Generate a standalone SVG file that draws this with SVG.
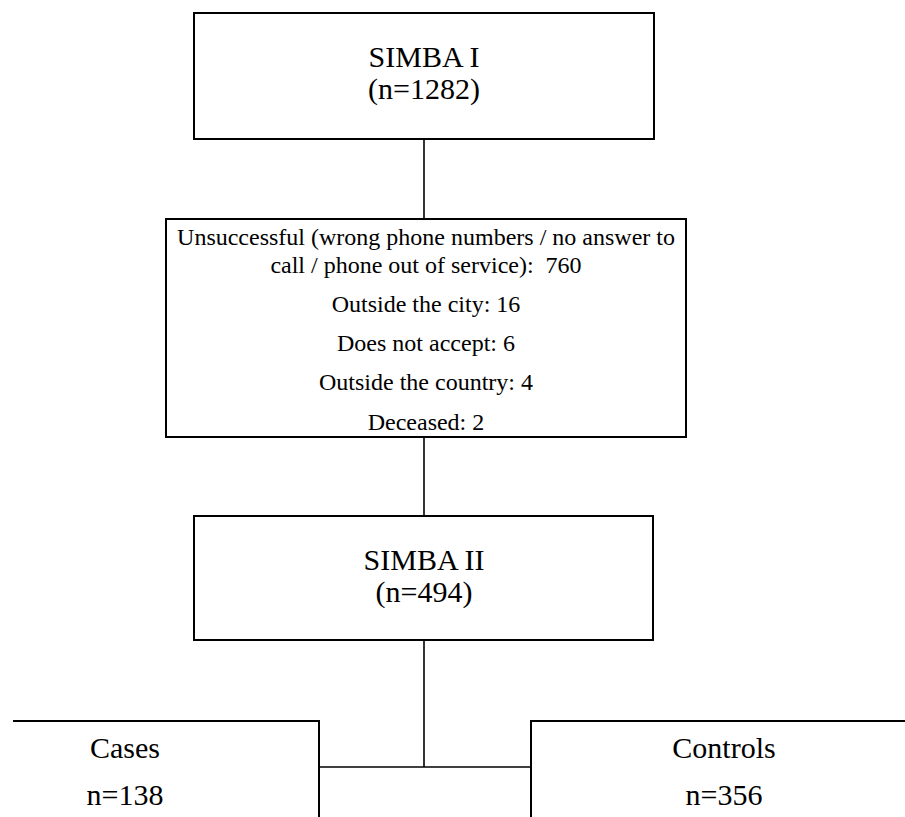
<svg xmlns="http://www.w3.org/2000/svg" width="905" height="817" viewBox="0 0 905 817">
<style>
.box{fill:#fff;stroke:#000;stroke-width:2}
.edge{fill:none;stroke:#000;stroke-width:2}
.con{fill:none;stroke:#000;stroke-width:1.6}
text{font-family:"Liberation Serif","Times New Roman",serif;fill:#000;text-anchor:middle}
.t{font-size:30px}
.s{font-size:24px}
</style>
<rect width="905" height="817" fill="#fff"/>
<g id="connectors">
<line class="con" x1="424" y1="139" x2="424" y2="219"/>
<line class="con" x1="424" y1="437" x2="424" y2="516"/>
<line class="con" x1="424" y1="640" x2="424" y2="767"/>
<line class="con" x1="319" y1="767" x2="531" y2="767"/>
</g>
<g id="simba1">
<rect class="box" x="194" y="13" width="460" height="126"/>
<text class="t" x="424" y="67">SIMBA I</text>
<text class="t" x="424" y="99">(n=1282)</text>
</g>
<g id="excluded">
<rect class="box" x="166" y="219" width="520" height="218"/>
<text class="s" x="426" y="245">Unsuccessful (wrong phone numbers / no answer to</text>
<text class="s" x="426" y="273" xml:space="preserve">call / phone out of service):  760</text>
<text class="s" x="426" y="312">Outside the city: 16</text>
<text class="s" x="426" y="351">Does not accept: 6</text>
<text class="s" x="426" y="390">Outside the country: 4</text>
<text class="s" x="426" y="430">Deceased: 2</text>
</g>
<g id="simba2">
<rect class="box" x="194" y="516" width="459" height="124"/>
<text class="t" x="424" y="570">SIMBA II</text>
<text class="t" x="424" y="602">(n=494)</text>
</g>
<g id="cases">
<path class="edge" d="M13,721 H319 V820"/>
<text class="t" x="125" y="758">Cases</text>
<text class="t" x="125" y="805">n=138</text>
</g>
<g id="controls">
<path class="edge" d="M908,721 H531 V820"/>
<text class="t" x="724" y="758">Controls</text>
<text class="t" x="724" y="805">n=356</text>
</g>
</svg>
